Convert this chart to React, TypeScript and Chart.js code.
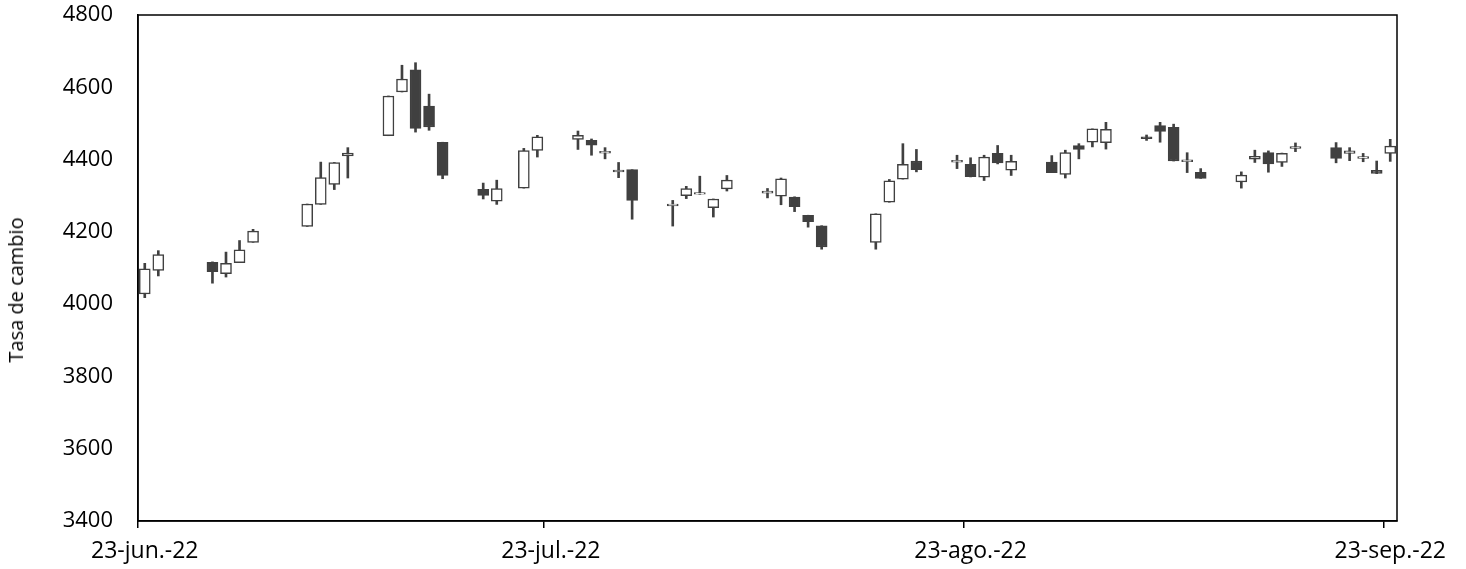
import React, { useEffect, useRef } from "react";
import { Chart, registerables } from "chart.js";

Chart.register(...registerables);

// Trading dates (COP/USD), Jun 23 – Sep 23, 2022
const dates = [
  "2022-06-23", "2022-06-24", "2022-06-28", "2022-06-29", "2022-06-30", "2022-07-01",
  "2022-07-05", "2022-07-06", "2022-07-07", "2022-07-08", "2022-07-11", "2022-07-12",
  "2022-07-13", "2022-07-14", "2022-07-15", "2022-07-18", "2022-07-19", "2022-07-21",
  "2022-07-22", "2022-07-25", "2022-07-26", "2022-07-27", "2022-07-28", "2022-07-29",
  "2022-08-01", "2022-08-02", "2022-08-03", "2022-08-04", "2022-08-05", "2022-08-08",
  "2022-08-09", "2022-08-10", "2022-08-11", "2022-08-12", "2022-08-16", "2022-08-17",
  "2022-08-18", "2022-08-19", "2022-08-22", "2022-08-23", "2022-08-24", "2022-08-25",
  "2022-08-26", "2022-08-29", "2022-08-30", "2022-08-31", "2022-09-01", "2022-09-02",
  "2022-09-05", "2022-09-06", "2022-09-07", "2022-09-08", "2022-09-09", "2022-09-12",
  "2022-09-13", "2022-09-14", "2022-09-15", "2022-09-16", "2022-09-19", "2022-09-20",
  "2022-09-21", "2022-09-22", "2022-09-23",
];

const openValues = [
  4028, 4093, 4116, 4084, 4115, 4171, 4215, 4276, 4331, 4410, 4466, 4587,
  4648, 4548, 4448, 4318, 4285, 4321, 4425, 4456, 4453, 4418, 4366, 4372,
  4272, 4300, 4304, 4267, 4319, 4307, 4299, 4296, 4246, 4217, 4171, 4282,
  4346, 4396, 4393, 4387, 4351, 4417, 4371, 4393, 4359, 4439, 4448, 4447,
  4463, 4494, 4489, 4394, 4365, 4338, 4401, 4419, 4392, 4431, 4433, 4417,
  4403, 4370, 4417,
];

const highValues = [
  4113, 4148, 4117, 4144, 4176, 4207, 4277, 4393, 4392, 4433, 4576, 4661,
  4668, 4581, 4448, 4335, 4343, 4431, 4467, 4479, 4457, 4433, 4392, 4372,
  4287, 4326, 4354, 4291, 4356, 4320, 4349, 4297, 4246, 4217, 4250, 4345,
  4444, 4428, 4412, 4405, 4412, 4439, 4412, 4411, 4426, 4444, 4485, 4503,
  4468, 4503, 4498, 4419, 4375, 4366, 4426, 4424, 4418, 4446, 4447, 4433,
  4417, 4396, 4456,
];

const lowValues = [
  4018, 4078, 4058, 4075, 4115, 4171, 4215, 4276, 4317, 4349, 4466, 4587,
  4476, 4481, 4347, 4291, 4276, 4321, 4407, 4428, 4412, 4402, 4350, 4235,
  4216, 4292, 4304, 4241, 4313, 4294, 4275, 4256, 4213, 4152, 4152, 4282,
  4346, 4366, 4375, 4352, 4342, 4388, 4356, 4364, 4349, 4402, 4435, 4429,
  4453, 4448, 4396, 4364, 4348, 4321, 4392, 4365, 4381, 4422, 4391, 4397,
  4394, 4361, 4395,
];

const closeValues = [
  4098, 4137, 4090, 4113, 4150, 4202, 4277, 4350, 4392, 4418, 4576, 4623,
  4486, 4490, 4356, 4301, 4320, 4425, 4463, 4467, 4440, 4423, 4371, 4287,
  4277, 4320, 4309, 4291, 4343, 4313, 4347, 4270, 4228, 4158, 4250, 4341,
  4387, 4372, 4398, 4353, 4407, 4391, 4395, 4364, 4419, 4428, 4485, 4484,
  4458, 4478, 4396, 4399, 4348, 4357, 4409, 4388, 4417, 4436, 4403, 4424,
  4408, 4362, 4437,
];

const yTickValues = [3400, 3600, 3800, 4000, 4200, 4400, 4600, 4800];
const xTickDates = ["2022-06-23", "2022-07-23", "2022-08-23", "2022-09-23"];
const xTickLabels = ["23-jun.-22", "23-jul.-22", "23-ago.-22", "23-sep.-22"];
const xStartDate = "2022-06-23";
const xEndDate = "2022-09-24";
const yTitle = "Tasa de cambio";

const DAY = 86400000;
function dayOffset(s: string): number {
  const [y, m, d] = s.split("-").map(Number);
  const [y0, m0, d0] = xStartDate.split("-").map(Number);
  return Math.round((Date.UTC(y, m - 1, d) - Date.UTC(y0, m0 - 1, d0)) / DAY);
}

const DARK = "#404040";
const FONT = "'Open Sans', 'Liberation Sans', sans-serif";

const framePlugin = {
  id: "frame",
  afterDatasetsDraw(chart: any) {
    const { ctx, chartArea: a } = chart;
    ctx.save();
    ctx.strokeStyle = "#000";
    ctx.lineWidth = 1.5;
    ctx.strokeRect(a.left, a.top, a.right - a.left, a.bottom - a.top);
    ctx.restore();
  },
};

export default function App() {
  const canvasRef = useRef<HTMLCanvasElement | null>(null);

  useEffect(() => {
    if (!canvasRef.current) return;
    const days = dates.map(dayOffset);
    const xMax = dayOffset(xEndDate);
    const tickDays = xTickDates.map(dayOffset);

    const wickData = days.map((d, i) => ({ x: d + 0.5, y: [lowValues[i], highValues[i]] }));
    const bodyData = days.map((d, i) => ({ x: d + 0.5, y: [openValues[i], closeValues[i]] }));

    const chart = new Chart(canvasRef.current, {
      type: "bar",
      data: {
        datasets: [
          {
            label: "wick",
            data: wickData as any,
            backgroundColor: DARK,
            borderWidth: 0,
            barThickness: 2,
            grouped: false,
            order: 2,
            xAxisID: "x",
            yAxisID: "y",
          } as any,
          {
            label: "body",
            data: bodyData as any,
            backgroundColor: (ctx: any) => {
              const i = ctx.dataIndex;
              return closeValues[i] < openValues[i] ? DARK : "#ffffff";
            },
            borderColor: DARK,
            borderWidth: 1.5,
            borderSkipped: false,
            barThickness: 11,
            grouped: false,
            order: 1,
            xAxisID: "x",
            yAxisID: "y",
          } as any,
        ],
      },
      options: {
        animation: false,
        responsive: false,
        devicePixelRatio: 1,
        layout: { padding: { top: 15, right: 69, left: 0, bottom: 0 } },
        plugins: {
          legend: { display: false },
          tooltip: { enabled: false },
        },
        scales: {
          x: {
            type: "linear",
            position: "bottom",
            min: 0,
            max: xMax,
            offset: false,
            weight: 0,
            afterBuildTicks: (scale: any) => {
              scale.ticks = tickDays.map((v) => ({ value: v }));
            },
            afterFit: (scale: any) => {
              scale.height = 7;
            },
            ticks: { display: false },
            grid: {
              display: true,
              offset: false,
              drawOnChartArea: false,
              drawTicks: true,
              tickLength: 7,
              color: "#000",
              lineWidth: 1.5,
            },
            border: { display: true, color: "#000", width: 1.5 },
          },
          x2: {
            type: "linear",
            position: "bottom",
            min: 0,
            max: xMax,
            offset: false,
            weight: 1,
            afterBuildTicks: (scale: any) => {
              scale.ticks = tickDays.map((v) => ({ value: v + 0.5 }));
            },
            afterFit: (scale: any) => {
              scale.height = 41;
            },
            ticks: {
              autoSkip: false,
              maxRotation: 0,
              padding: 10,
              color: "#000",
              font: { family: FONT, size: 23 },
              callback: (_v: any, i: number) => xTickLabels[i],
            },
            grid: { display: false, offset: false, drawTicks: false },
            border: { display: false },
          },
          y: {
            type: "linear",
            min: 3400,
            max: 4800,
            afterBuildTicks: (scale: any) => {
              scale.ticks = yTickValues.map((v) => ({ value: v }));
            },
            afterFit: (scale: any) => {
              scale.width = 138;
            },
            ticks: {
              padding: 0,
              color: "#000",
              font: { family: FONT, size: 22 },
              callback: (v: any) => String(v),
            },
            grid: { display: false, drawTicks: true, tickLength: 25 },
            border: { display: true, color: "#000", width: 1.5 },
          },
        },
      } as any,
      plugins: [framePlugin],
    });
    return () => chart.destroy();
  }, []);

  return (
    <div style={{ position: "absolute", left: 0, top: 0, width: 1466, height: 569, background: "#fff" }}>
      <canvas ref={canvasRef} width={1466} height={569} style={{ width: 1466, height: 569, display: "block" }} />
      <div
        style={{
          position: "absolute",
          left: 16,
          top: 290,
          transform: "translate(-50%, -50%) rotate(-90deg)",
          whiteSpace: "nowrap",
          fontFamily: FONT,
          fontSize: 20,
          color: "#000",
          lineHeight: 1,
        }}
      >
        {yTitle}
      </div>
    </div>
  );
}
